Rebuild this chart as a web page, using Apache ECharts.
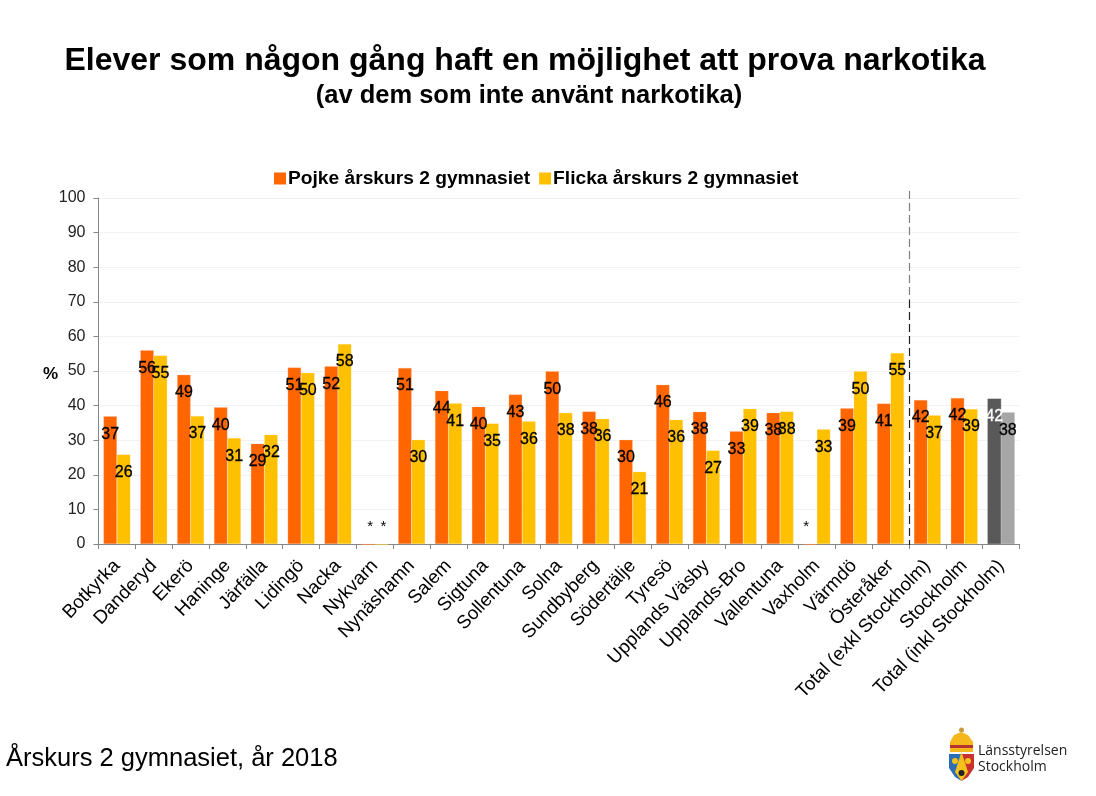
<!DOCTYPE html>
<html><head><meta charset="utf-8">
<style>html,body{margin:0;padding:0;background:#fff}#c{width:1096px;height:796px}</style>
<script src="https://cdn.jsdelivr.net/npm/echarts@6/dist/echarts.min.js"></script>
</head><body><div id="c"></div>
<script>
const categories=["Botkyrka","Danderyd","Ekerö","Haninge","Järfälla","Lidingö","Nacka","Nykvarn","Nynäshamn","Salem","Sigtuna","Sollentuna","Solna","Sundbyberg","Södertälje","Tyresö","Upplands Väsby","Upplands-Bro","Vallentuna","Vaxholm","Värmdö","Österåker","Total (exkl Stockholm)","Stockholm","Total (inkl Stockholm)"];
const pojke=[36.9,56,48.9,39.5,29,51,51.4,-0.3,50.9,44.3,39.7,43.2,49.9,38.3,30.1,46,38.2,32.6,37.9,-0.3,39.2,40.6,41.6,42.2,42];
const flicka=[25.9,54.5,37,30.6,31.6,49.5,57.8,-0.3,30.1,40.7,34.8,35.5,37.9,36.2,20.9,35.9,27,39.1,38.3,33.2,49.9,55.2,37.2,39,38];
const pojkeLabels=["37","56","49","40","29","51","52","*","51","44","40","43","50","38","30","46","38","33","38","*","39","41","42","42","42"];
const flickaLabels=["26","55","37","31","32","50","58","*","30","41","35","36","38","36","21","36","27","39","38","33","50","55","37","39","38"];
const yTicks={min:0,max:100,interval:10};
const FONT='"Liberation Sans",Arial,sans-serif';
const C1='#FF6600',C2='#FFC000',G1='#595959',G2='#A6A6A6';
function items(vals,labels,lastColor,lastLabel){
  return vals.map((v,i)=>{
    const d={value:v,name:categories[i]};
    d.label={formatter:labels[i]};
    if(labels[i]==='*'){d.label={formatter:'*',position:'top',distance:10,fontSize:15,textBorderWidth:0,offset:[categories[i]==='Vaxholm'?-4:2,0]};}
    if(i===vals.length-1){d.itemStyle={color:lastColor,borderColor:lastColor};d.label.color=lastLabel;d.label.textBorderColor=lastLabel;}
    return d;
  });
}
const chart=echarts.init(document.getElementById('c'),null,{renderer:'canvas'});
const barLabel={show:true,position:'insideTop',distance:10,color:'#000',fontFamily:FONT,fontSize:16,textBorderColor:'#000',textBorderWidth:0.3};
chart.setOption({
  animation:false,
  textStyle:{fontFamily:FONT},
  title:[
    {text:'Elever som någon gång haft en möjlighet att prova narkotika',left:525,top:45,padding:0,textAlign:'center',textStyle:{fontFamily:FONT,fontSize:32,fontWeight:'bold',color:'#000'}},
    {text:'(av dem som inte använt narkotika)',left:529,top:83,padding:0,textAlign:'center',textStyle:{fontFamily:FONT,fontSize:25.5,fontWeight:'bold',color:'#000'}},
    {text:'Årskurs 2 gymnasiet, år 2018',left:6,top:746,padding:0,textStyle:{fontFamily:FONT,fontSize:25.5,fontWeight:'normal',color:'#000'}}
  ],
  legend:{top:164,left:269,icon:'rect',itemWidth:12,itemHeight:12,itemGap:9,itemStyle:{borderWidth:0},data:['Pojke årskurs 2 gymnasiet','Flicka årskurs 2 gymnasiet'],
    textStyle:{fontFamily:FONT,fontSize:19.2,fontWeight:'bold',color:'#000',padding:[0,0,0,-3]}},
  grid:{left:98.5,right:76.5,top:198,bottom:252,containLabel:false},
  xAxis:{type:'category',data:categories,
    axisLine:{onZero:false,lineStyle:{color:'#868686',width:1}},
    axisTick:{show:true,alignWithLabel:false,length:5,lineStyle:{color:'#868686'}},
    axisLabel:{rotate:46,interval:0,fontFamily:FONT,fontSize:18.8,color:'#000',margin:19}},
  yAxis:{type:'value',min:yTicks.min,max:yTicks.max,interval:yTicks.interval,
    axisLine:{show:true,lineStyle:{color:'#868686',width:1}},
    axisTick:{show:true,length:5,lineStyle:{color:'#868686'}},
    axisLabel:{fontFamily:FONT,fontSize:16,color:'#222',margin:13},
    splitLine:{lineStyle:{color:'#F2F2F2',width:1}}},
  series:[
    {name:'Pojke årskurs 2 gymnasiet',type:'bar',clip:false,data:items(pojke,pojkeLabels,G1,'#fff'),barGap:'0%',barCategoryGap:'27%',
     itemStyle:{color:C1,borderColor:'rgba(255,180,160,0.5)',borderWidth:0.5},label:barLabel},
    {name:'Flicka årskurs 2 gymnasiet',type:'bar',clip:false,data:items(flicka,flickaLabels,G2,'#000'),
     itemStyle:{color:C2,borderColor:'rgba(255,225,140,0.5)',borderWidth:0.5},label:barLabel}
  ],
  color:[C1,C2],
  graphic:[
    {type:'text',left:43,top:366,style:{text:'%',font:'bold 17px "Liberation Sans",Arial,sans-serif',fill:'#000'}},
    {type:'line',z:20,shape:{x1:909.5,y1:191,x2:909.5,y2:300},style:{stroke:'#808080',lineWidth:1.2,lineDash:[8,4]}},
    {type:'line',z:20,shape:{x1:909.5,y1:300,x2:909.5,y2:545},style:{stroke:'#222',lineWidth:1.2,lineDash:[8,4]}},
    {type:'polygon',shape:{points:[[950,752],[950,742],[954,735],[961,732],[968,735],[973,742],[973,752]]},style:{fill:'#F5B81C'}},
    {type:'rect',shape:{x:950,y:745,width:23,height:3},style:{fill:'#B5322E'}},
    {type:'circle',shape:{cx:961.5,cy:730,r:2.5},style:{fill:'#C99A3A'}},
    {type:'polygon',shape:{points:[[949,754],[961.5,754],[961.5,781],[955,777],[949,768]]},style:{fill:'#2C6DB5'}},
    {type:'polygon',shape:{points:[[961.5,754],[974,754],[974,768],[968,777],[961.5,781]]},style:{fill:'#C8322E'}},
    {type:'polygon',shape:{points:[[961.5,752],[968,772],[961.5,781],[955,772]]},style:{fill:'#F5C21C'}},
    {type:'circle',shape:{cx:961.5,cy:773,r:3},style:{fill:'#222'}},
    {type:'circle',shape:{cx:955,cy:761,r:3},style:{fill:'#F5C21C'}},
    {type:'circle',shape:{cx:968,cy:761,r:3},style:{fill:'#F5C21C'}},
    {type:'text',left:978,top:744,style:{text:'Länsstyrelsen',font:'14px "Open Sans",sans-serif',fill:'#222'}},
    {type:'text',left:978,top:760,style:{text:'Stockholm',font:'14px "Open Sans",sans-serif',fill:'#222'}}
  ]
});
</script></body></html>
